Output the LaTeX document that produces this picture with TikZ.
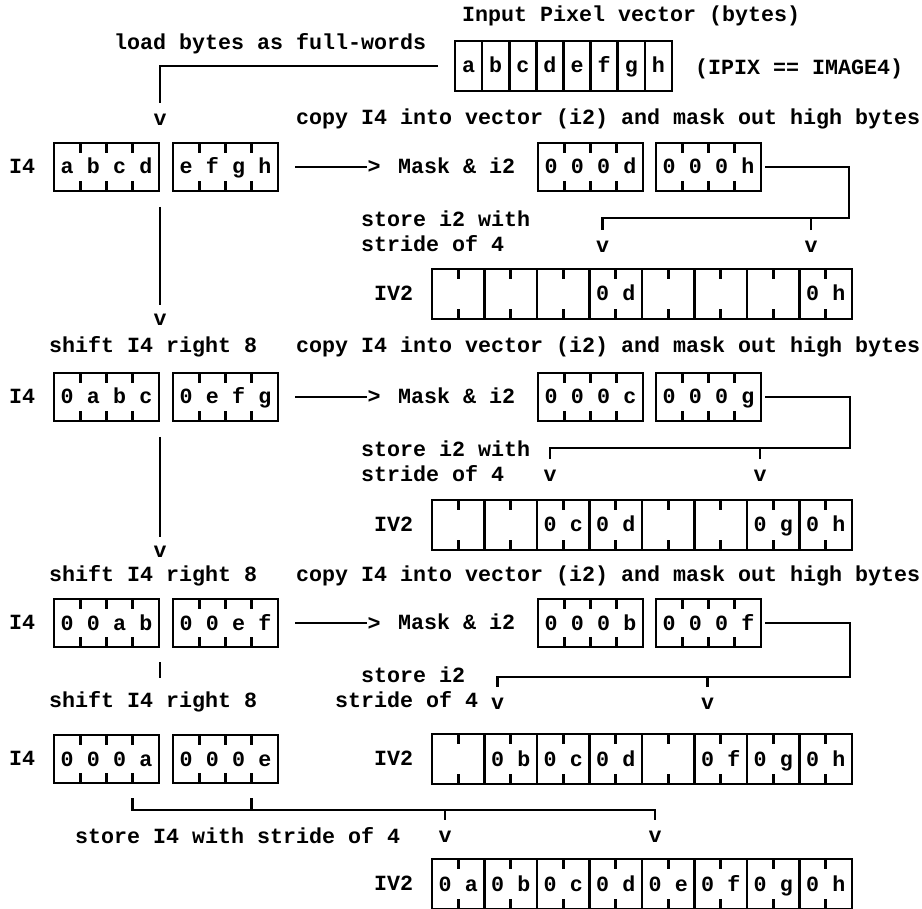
\documentclass[tikz,border=0pt]{standalone}
\usepackage{fontspec}
\usetikzlibrary{calc}
\newfontfamily\dmono{Liberation Mono}
\newcommand\FF{\dmono\bfseries\fontsize{21.66pt}{26pt}\selectfont}
\tikzset{
  ln/.style={line width=2.6pt},
  txt/.style={font=\FF, inner sep=0pt, text height=13pt, text depth=0pt, anchor=west},
  chr/.style={font=\FF, inner sep=0pt, anchor=base},
  vch/.style={font=\FF, inner sep=0pt, text height=11.4pt, text depth=0pt, anchor=center},
  wb/.style={draw, line width=2.6pt, minimum width=105pt, minimum height=48pt, inner sep=0pt, outer sep=0pt, anchor=west},
  ivb/.style={draw, line width=2.6pt, minimum width=420pt, minimum height=50pt, inner sep=0pt, outer sep=0pt, anchor=west},
}
\newcommand\wordbox[4]{%
  \node[wb] (#1) at (#2,#3) {};
  \foreach \k in {1,2,3}{
    \draw[ln] ($(#1.north west)+(\k*26.25,0)$) -- ++(0,10);
    \draw[ln] ($(#1.south west)+(\k*26.25,0)$) -- ++(0,-10);
  }
  \foreach \c [count=\i] in {#4}{
    \node[chr] (#1-\i) at ($(#1.west)+(\i*26.25-13.125,7)$) {\c};
  }
}
\newcommand\ivbox[3]{%
  \node[ivb] (#1) at (432,#2) {};
  \foreach \k in {1,...,7}{
    \draw[ln] ($(#1.north west)+(\k*52.5,0)$) -- ($(#1.south west)+(\k*52.5,0)$);
  }
  \foreach \k in {0,...,7}{
    \draw[ln] ($(#1.north west)+(\k*52.5+26.25,0)$) -- ++(0,10);
    \draw[ln] ($(#1.south west)+(\k*52.5+26.25,0)$) -- ++(0,-10);
  }
  \foreach \c [count=\i from 0] in {#3}{
    \if\c-\else
      \node[chr] (#1-\i-a) at ($(#1.west)+(\i*52.5+13.125,7)$) {0};
      \node[chr] (#1-\i-b) at ($(#1.west)+(\i*52.5+39.375,7)$) {\c};
    \fi
  }
}
\begin{document}
\begin{tikzpicture}[x=1pt,y=-1pt]
\fill[white] (0,0) rectangle (922,909);
\useasboundingbox (0,0) rectangle (922,909);

% ---------- top: input pixel vector ----------
\node[txt] (tin) at (462,15) {Input Pixel vector (bytes)};
\node[txt] (tload) at (114,43) {load bytes as full-words};
\node[ivb, minimum width=217pt] (inp) at (455,66) {};
\foreach \k in {1,...,7}{
  \draw[ln] ($(inp.north west)+(\k*27.125,0)$) -- ($(inp.south west)+(\k*27.125,0)$);
}
\foreach \c [count=\i] in {a,b,c,d,e,f,g,h}{
  \node[chr] (inp-\i) at ($(inp.west)+(\i*27.125-13.56,7)$) {\c};
}
\node[txt] (tipix) at (695,68) {(IPIX == IMAGE4)};
\node[vch] (v0) at (160,120) {v};
\draw[ln] ($(inp.west)+(-17,0)$) -| ($(v0.north)+(0,-11)$);

% ---------- row 1 ----------
\node[txt] (copy1) at (296,118) {copy I4 into vector (i2) and mask out high bytes};
\node[txt] (lab1) at (9,167) {I4};
\wordbox{a1}{54}{167}{a,b,c,d}
\wordbox{b1}{173}{167}{e,f,g,h}
\node[chr] (gt1) at (374,174) {>};
\draw[ln] ($(b1.east)+(17,0)$) -- (gt1.west |- b1.east);
\node[txt] (mk1) at (398,167) {Mask \& i2};
\wordbox{m1}{538}{167}{0,0,0,d}
\wordbox{n1}{656}{167}{0,0,0,h}
\node[txt] (s1a) at (361,220) {store i2 with};
\node[txt] (s1b) at (361,245) {stride of 4};
\node[vch] (v1a) at (602.6,247) {v};
\node[vch] (v1b) at (811,247) {v};
\draw[ln] ($(n1.east)+(4,0)$) -| (849,218) -| ($(v1a.north)+(0,-11)$);
\draw[ln] ($(v1b.north)+(0,-11)$) -- ++(0,-12);
\node[txt] (iv1) at (374,294) {IV2};
\ivbox{w1}{294}{-,-,-,d,-,-,-,h}
\node[vch] (v2) at (160,320) {v};
\draw[ln] ($(v2.north |- a1.south)+(0,16)$) -- ($(v2.north)+(0,-9)$);

% ---------- row 2 ----------
\node[txt] (sh2) at (49,346) {shift I4 right 8};
\node[txt] (copy2) at (296,346) {copy I4 into vector (i2) and mask out high bytes};
\node[txt] (lab2) at (9,397) {I4};
\wordbox{a2}{54}{397}{0,a,b,c}
\wordbox{b2}{173}{397}{0,e,f,g}
\node[chr] (gt2) at (374,404) {>};
\draw[ln] ($(b2.east)+(17,0)$) -- (gt2.west |- b2.east);
\node[txt] (mk2) at (398,397) {Mask \& i2};
\wordbox{m2}{538}{397}{0,0,0,c}
\wordbox{n2}{656}{397}{0,0,0,g}
\node[txt] (s2a) at (361,450) {store i2 with};
\node[txt] (s2b) at (361,475) {stride of 4};
\node[vch] (v3a) at (550.1,476) {v};
\node[vch] (v3b) at (760.1,476) {v};
\draw[ln] ($(n2.east)+(4,0)$) -| (850,448) -| ($(v3a.north)+(0,-11)$);
\draw[ln] ($(v3b.north)+(0,-11)$) -- ++(0,-12);
\node[txt] (iv2) at (374,525) {IV2};
\ivbox{w2}{525}{-,-,c,d,-,-,g,h}
\node[vch] (v4) at (160,552) {v};
\draw[ln] ($(v4.north |- a2.south)+(0,16)$) -- ($(v4.north)+(0,-9)$);

% ---------- row 3 ----------
\node[txt] (sh3) at (49,575) {shift I4 right 8};
\node[txt] (copy3) at (296,575) {copy I4 into vector (i2) and mask out high bytes};
\node[txt] (lab3) at (9,623) {I4};
\wordbox{a3}{54}{623}{0,0,a,b}
\wordbox{b3}{173}{623}{0,0,e,f}
\node[chr] (gt3) at (374,630) {>};
\draw[ln] ($(b3.east)+(17,0)$) -- (gt3.west |- b3.east);
\node[txt] (mk3) at (398,623) {Mask \& i2};
\wordbox{m3}{538}{623}{0,0,0,b}
\wordbox{n3}{656}{623}{0,0,0,f}
\node[txt] (s3a) at (361,676) {store i2};
\node[txt] (s3b) at (335,701) {stride of 4};
\node[vch] (v5a) at (497.6,704) {v};
\node[vch] (v5b) at (707.6,704) {v};
\draw[ln] ($(n3.east)+(4,0)$) -| (850,677) -| ($(v5a.north)+(0,-11)$);
\draw[ln] ($(v5b.north)+(0,-11)$) -- ++(0,-10);
\coordinate (c3) at (160,662);
\draw[ln] (c3) -- ++(0,16);

% ---------- row 4 ----------
\node[txt] (sh4) at (49,701) {shift I4 right 8};
\node[txt] (lab4) at (9,759) {I4};
\wordbox{a4}{54}{759}{0,0,0,a}
\wordbox{b4}{173}{759}{0,0,0,e}
\node[txt] (iv3) at (374,759) {IV2};
\ivbox{w3}{759}{-,b,c,d,-,f,g,h}
\node[txt] (st4) at (75,837) {store I4 with stride of 4};
\node[vch] (v6a) at (445.1,837) {v};
\node[vch] (v6b) at (655.1,837) {v};
\draw[ln] ($(a4.south west)+(78.75,15)$) |- ($(v6b.north)+(0,-21)$) -- ($(v6b.north)+(0,-11)$);
\draw[ln] ($(b4.south west)+(78.75,15)$) -- ++(0,12);
\draw[ln] ($(v6a.north)+(0,-21)$) -- ($(v6a.north)+(0,-11)$);
\node[txt] (iv4) at (374,884) {IV2};
\ivbox{w4}{884}{a,b,c,d,e,f,g,h}
\end{tikzpicture}
\end{document}
